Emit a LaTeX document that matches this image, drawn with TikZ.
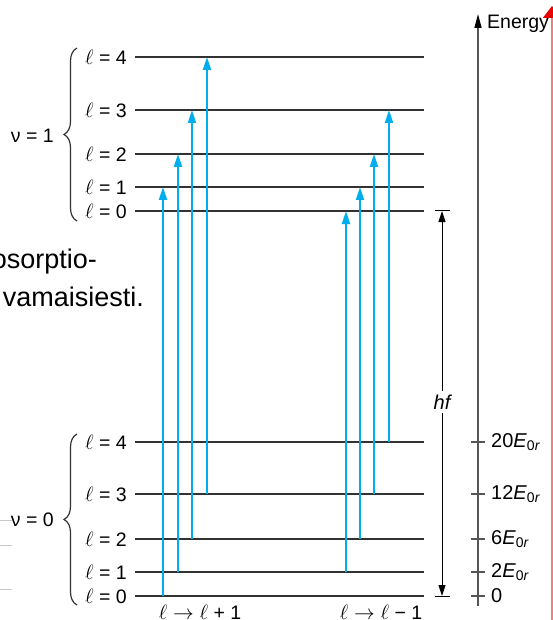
\documentclass[tikz,border=0pt]{standalone}
\usepackage{fontspec}
\setmainfont{Liberation Sans}
\usetikzlibrary{arrows.meta,decorations.pathreplacing}
\definecolor{cyanarrow}{RGB}{0,174,239}
\definecolor{levelgray}{RGB}{50,50,50}
\definecolor{axisgray}{RGB}{85,85,85}
\definecolor{pinkline}{RGB}{240,128,128}
\definecolor{redtip}{RGB}{235,0,0}
\definecolor{ghost}{RGB}{200,200,200}
\begin{document}
\begin{tikzpicture}[x=1pt,y=-1pt,
  level/.style={draw=levelgray, line width=1.4pt},
  trans/.style={draw=cyanarrow, line width=2.2pt, -{Triangle[length=13pt,width=8pt]}},
  lab/.style={font=\fontsize{19.5}{22}\selectfont, inner sep=0pt},
  elab/.style={font=\fontsize{20}{22}\selectfont, inner sep=0pt, anchor=west},
  bigtxt/.style={font=\fontsize{27}{30}\selectfont, inner sep=0pt, anchor=base east},
  vbrace/.style={draw=levelgray, line width=1.2pt, decorate, decoration={brace, amplitude=13pt}},
  axis/.style={draw=axisgray, line width=1.5pt},
  dim/.style={draw=black, line width=1pt, -{Triangle[length=11pt,width=7pt]}},
]
\useasboundingbox (0,0) rectangle (553,620);

% residual slide text and lines
\node[bigtxt] (t1) at (97,268) {osorptio-};
\node[bigtxt] (t2) at (144,306) {vamaisiesti.};
\coordinate (g1a) at (0,520); \coordinate (g1b) at (12,520);
\coordinate (g2a) at (0,545); \coordinate (g2b) at (12,545);
\coordinate (g3a) at (0,589); \coordinate (g3b) at (12,589);
\draw[ghost, line width=1pt] (g1a) -- (g1b);
\draw[ghost, line width=1pt] (g2a) -- (g2b);
\draw[ghost, line width=1pt] (g3a) -- (g3b);

% upper levels (nu = 1)
\foreach \l/\y in {4/57,3/110,2/154,1/187,0/211} {
  \coordinate (U\l) at (135,\y);
  \coordinate (U\l e) at (424,\y);
  \draw[level] (U\l) -- (U\l e);
  \node[lab, anchor=east] (UL\l) at (127,\y) {$\ell$ = \l};
}
% lower levels (nu = 0)
\foreach \l/\y in {4/442,3/494,2/539,1/572,0/596} {
  \coordinate (D\l) at (135,\y);
  \coordinate (D\l e) at (424,\y);
  \draw[level] (D\l) -- (D\l e);
  \node[lab, anchor=east] (DL\l) at (127,\y) {$\ell$ = \l};
}

% braces
\coordinate (b1s) at (77,221); \coordinate (b1e) at (77,48);
\coordinate (b0s) at (77,605); \coordinate (b0e) at (77,434);
\draw[vbrace] (b1s) -- (b1e);
\draw[vbrace] (b0s) -- (b0e);
\node[lab, anchor=east] (nu1) at (54,136) {ν = 1};
\node[lab, anchor=east] (nu0) at (54,520) {ν = 0};

% transitions l -> l+1
\foreach \x/\a/\b in {163/596/187, 178/572/154, 192/539/110, 207/494/57} {
  \coordinate (ps\x) at (\x,\a);
  \coordinate (pe\x) at (\x,\b);
  \draw[trans] (ps\x) -- (pe\x);
}
% transitions l -> l-1
\foreach \x/\a/\b in {346/572/211, 360/539/187, 374/494/154, 389/442/110} {
  \coordinate (ms\x) at (\x,\a);
  \coordinate (me\x) at (\x,\b);
  \draw[trans] (ms\x) -- (me\x);
}

\node[lab, anchor=base] (plus) at (200,619) {$\ell\rightarrow\ell$ + 1};
\node[lab, anchor=base] (minus) at (381,619) {$\ell\rightarrow\ell$ − 1};

% hf dimension
\coordinate (hT) at (442,211); \coordinate (hB) at (442,596);
\coordinate (hTa) at (435,211); \coordinate (hTb) at (450,211);
\coordinate (hBa) at (435,596); \coordinate (hBb) at (450,596);
\draw[black, line width=1pt] (hTa) -- (hTb);
\draw[black, line width=1pt] (hBa) -- (hBb);
\node[lab, fill=white, inner sep=4pt, font=\fontsize{20}{22}\selectfont\itshape] (hf) at (442,402) {hf};
\draw[dim] (hf) -- (hT);
\draw[dim] (hf) -- (hB);

% energy axis
\coordinate (Eb) at (478,606); \coordinate (Et) at (478,14);
\draw[axis, -{Triangle[length=14pt,width=7pt,color=black]}] (Eb) -- (Et);
\node[font=\fontsize{19.5}{21}\selectfont, inner sep=0pt, anchor=base west] (energy) at (487,29) {Energy};
\foreach \y/\t in {442/20, 494/12, 539/6, 572/2} {
  \coordinate (ta\y) at (471,\y); \coordinate (tb\y) at (485,\y);
  \draw[axis] (ta\y) -- (tb\y);
  \node[elab] (tl\y) at (491,\y) {\t\textit{E}\textsubscript{0\textit{r}}};
}
\coordinate (ta596) at (471,596); \coordinate (tb596) at (485,596);
\draw[axis] (ta596) -- (tb596);
\node[elab] (tl596) at (491,596) {0};

% red line at right edge
\coordinate (Rb) at (552,625); \coordinate (Rt) at (552,6);
\draw[pinkline, line width=1.5pt, -{Triangle[length=12pt,width=18pt,color=redtip]}] (Rb) -- (Rt);
\end{tikzpicture}
\end{document}
